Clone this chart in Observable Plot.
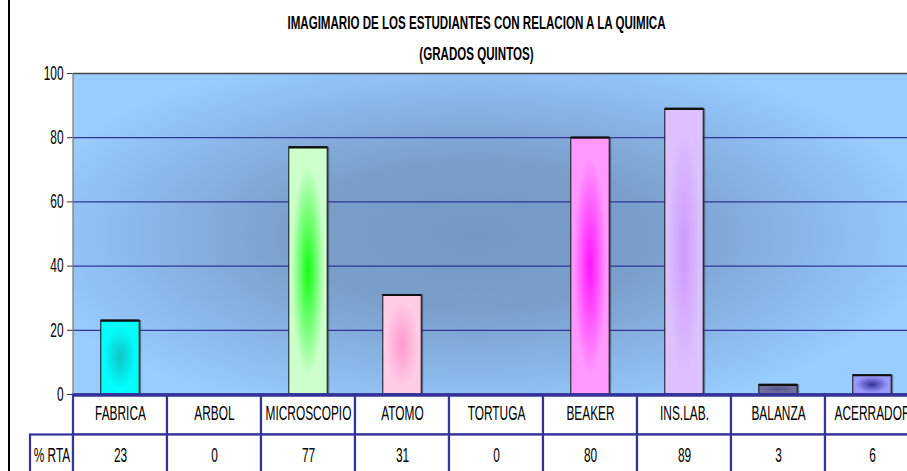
<!DOCTYPE html>
<html><head><meta charset="utf-8">
<script src="https://cdn.jsdelivr.net/npm/d3@7"></script>
<script src="https://cdn.jsdelivr.net/npm/@observablehq/plot@0.6"></script>
<style>
html,body{margin:0;padding:0;background:#fff;}
#chart{width:907px;height:471px;overflow:hidden;position:relative;}
</style></head><body><div id="chart"></div>
<script>
// ---- data ----
const title = "IMAGIMARIO DE LOS ESTUDIANTES CON RELACION A LA QUIMICA";
const subtitle = "(GRADOS QUINTOS)";
const categories = ["FABRICA","ARBOL","MICROSCOPIO","ATOMO","TORTUGA","BEAKER","INS.LAB.","BALANZA","ACERRADOR"];
const values = [23, 0, 77, 31, 0, 80, 89, 3, 6];
const seriesLabel = "% RTA";
const yTicks = [0, 20, 40, 60, 80, 100];

// ---- styles ----
const barEdge = ["#00FFFF","#FFFFFF","#CCFFCC","#FFCCE6","#FFFFFF","#FF99FF","#DDC0FF","#7070A0","#9999FF"];
const barCore = ["#10C4C8","#FFFFFF","#11FF11","#FF99CC","#FFFFFF","#FF11FF","#CC99FF","#55558A","#333399"];
const TEXT_SX = 0.61;
const FS = 19.5, TFS = 19;
const X0 = 73, STEP = 94.1, Y0 = 394, Y100 = 73, INSET = 27.8;
const pxToY = py => 100 * (Y0 - py) / (Y0 - Y100);

const rows = categories.map((c, i) => ({cat: c, value: values[i], i}));
const shown = rows.filter(d => d.value > 0);

const plot = Plot.plot({
  width: 907, height: 471,
  marginLeft: X0, marginRight: 0, marginTop: Y100, marginBottom: 471 - Y0,
  x: {type: "band", domain: categories, range: [X0, X0 + STEP * categories.length], padding: 0, axis: null},
  y: {domain: [0, 100], range: [Y0, Y100], axis: null},
  style: {fontFamily: "'Liberation Sans', Arial, sans-serif", background: "transparent", overflow: "visible", color: "#000"},
  marks: [
    // plot area background
    Plot.barY(categories, {x: d => d, y1: 0, y2: 100, fill: "url(#bg)"}),
    Plot.ruleY([20, 40, 60, 80], {stroke: "#333399", strokeWidth: 1.3}),
    Plot.ruleY([100], {stroke: "#444", strokeWidth: 1.3}),
    // bar shadows
    Plot.barY(shown, {x: "cat", y: "value", insetLeft: INSET, insetRight: INSET, dx: 2, fill: "#333", fillOpacity: 0.55}),
    // bars
    ...shown.map(d => Plot.barY([d], {x: "cat", y: "value", insetLeft: INSET, insetRight: INSET, fill: `url(#bar${d.i})`, stroke: "#111", strokeWidth: 1})),
    Plot.tickY(shown, {x: "cat", y: "value", insetLeft: INSET, insetRight: INSET, stroke: "#111", strokeWidth: 2.2}),
    // y axis
    Plot.axisY({ticks: yTicks, tickSize: 6, tickPadding: 4, fontSize: FS, stroke: "#333", label: null}),
    // titles
    Plot.text([title], {frameAnchor: "top", dx: -14, dy: -51, fontWeight: "bold", fontSize: TFS, lineAnchor: "middle"}),
    Plot.text([subtitle], {frameAnchor: "top", dx: -14, dy: -20, fontWeight: "bold", fontSize: TFS, lineAnchor: "middle"}),
    // data table
    Plot.barY(categories, {x: d => d, y1: pxToY(394.5), y2: pxToY(434.5), fill: "white", stroke: "#333399", strokeWidth: 2.2}),
    Plot.barY(categories, {x: d => d, y1: pxToY(434.5), y2: pxToY(490), fill: "white", stroke: "#333399", strokeWidth: 2.2}),
    Plot.ruleY([pxToY(394.5)], {stroke: "#333399", strokeWidth: 3.5}),
    Plot.text(categories, {x: d => d, y: pxToY(413), fontSize: FS, lineAnchor: "middle"}),
    Plot.text(rows, {x: "cat", y: pxToY(455), text: d => String(d.value), fontSize: FS, lineAnchor: "middle"}),
    Plot.text([seriesLabel], {frameAnchor: "left", dx: -21.5, y: pxToY(455), fontSize: FS, lineAnchor: "middle", textAnchor: "middle"})
  ]
});

const svg = d3.select(plot);
const defs = svg.insert("defs", ":first-child");
const bg = defs.append("radialGradient").attr("id", "bg").attr("gradientUnits", "userSpaceOnUse")
  .attr("cx", 0).attr("cy", 0).attr("r", 1).attr("gradientTransform", "translate(475,235) scale(460,190)");
[[0, "#7398C2"], [0.4, "#7A9FCB"], [0.78, "#8DBBEE"], [1, "#99CCFF"]].forEach(([o, c]) =>
  bg.append("stop").attr("offset", o).attr("stop-color", c));
categories.forEach((c, i) => {
  const g = defs.append("radialGradient").attr("id", `bar${i}`).attr("cx", 0.5).attr("cy", 0.5).attr("r", 0.5);
  g.append("stop").attr("offset", 0).attr("stop-color", barCore[i]);
  g.append("stop").attr("offset", 0.85).attr("stop-color", barEdge[i]);
  g.append("stop").attr("offset", 1).attr("stop-color", barEdge[i]);
});
// condensed text
svg.selectAll("text").each(function() {
  const t = this.getAttribute("transform") || "";
  this.setAttribute("transform", t + ` scale(${TEXT_SX},1)`);
});
// decorations: frame left edge, row-label cell, outer border
svg.append("line").attr("x1", X0).attr("x2", X0).attr("y1", Y100).attr("y2", Y0).attr("stroke", "#777").attr("stroke-width", 1.2);
svg.insert("rect", "defs + *").attr("x", 30).attr("y", 434.5).attr("width", X0 - 30).attr("height", 60)
  .attr("fill", "white").attr("stroke", "#333399").attr("stroke-width", 2.2);
svg.append("line").attr("x1", 9).attr("x2", 9).attr("y1", 0).attr("y2", 471).attr("stroke", "#000").attr("stroke-width", 2);
document.getElementById("chart").append(plot);
</script></body></html>
